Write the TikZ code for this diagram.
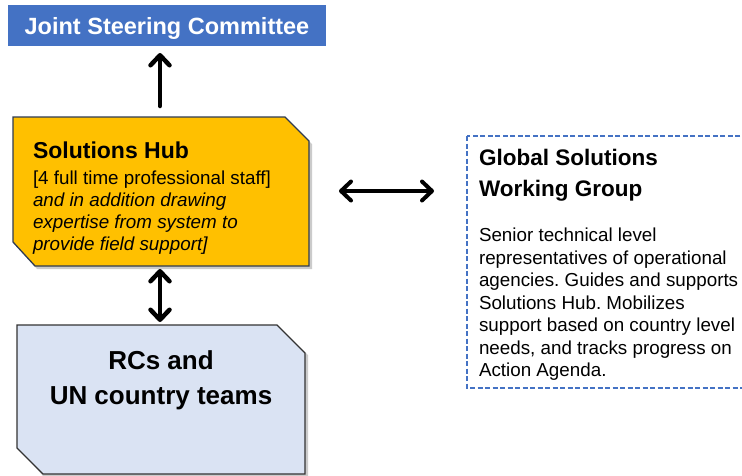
\documentclass[tikz,border=0pt]{standalone}
\usepackage{fontspec}
\setmainfont{Liberation Sans}
\usetikzlibrary{arrows.meta,calc}
\frenchspacing
\definecolor{jscblue}{HTML}{4472C4}
\definecolor{hubfill}{HTML}{FFC000}
\definecolor{hubedge}{HTML}{2F3B52}
\definecolor{rcfill}{HTML}{DAE3F3}
\definecolor{rcedge}{HTML}{333333}
\tikzset{
  frame/.style={inner sep=0pt, outer sep=0pt},
  txt/.style={inner sep=0pt, outer sep=0pt, anchor=base west},
  bodyfont/.style={font=\fontsize{18.8}{22}\selectfont},
  bodyit/.style={font=\fontsize{18.8}{22}\selectfont\itshape},
  conn/.style={line width=4.5pt, line cap=round, line join=round, black},
  barb/.tip={Straight Barb[length=10pt,width=19pt,line cap=round,line join=round]},
  tip/.style={-barb},
  tips/.style={barb-barb},
}
\begin{document}
\begin{tikzpicture}[x=1pt,y=-1pt]
\useasboundingbox (0,0) rectangle (742,475);
\clip (0,0) rectangle (742,475);
\fill[white] (0,0) rectangle (742,475);

% frames (invisible, named)
\node[frame, minimum width=318pt, minimum height=41pt] (jsc) at (167,25.5) {};
\node[frame, minimum width=296pt, minimum height=149pt] (hub) at (161,191.5) {};
\node[frame, minimum width=288pt, minimum height=149pt] (rc) at (161,399.5) {};
\node[frame, minimum width=282pt, minimum height=252pt] (gswg) at (608,262) {};

% Joint Steering Committee
\fill[jscblue] (jsc.north west) rectangle (jsc.south east);
\node[txt, anchor=base, text=white, font=\fontsize{23.5}{28}\selectfont\bfseries] (jsct) at (167,34) {Joint Steering Committee};

% Solutions Hub shape with shadow
\fill[black!45, opacity=0.45] ($(hub.north west)+(3,3)$) -- ($(hub.north east)+(-24,3)$) -- ($(hub.north east)+(3,27)$) -- ($(hub.south east)+(3,3)$) -- ($(hub.south west)+(24,3)$) -- ($(hub.south west)+(3,-22)$) -- cycle;
\draw[fill=hubfill, draw=hubedge, line width=1.3pt] (hub.north west) -- ($(hub.north east)+(-24,0)$) -- ($(hub.north east)+(0,24)$) -- (hub.south east) -- ($(hub.south west)+(22,0)$) -- ($(hub.south west)+(0,-24)$) -- cycle;
\node[txt, font=\fontsize{23}{28}\selectfont\bfseries] (hubt) at (33,158) {Solutions Hub};
\node[txt, bodyfont] (hb1) at (33,184) {[4 full time professional staff]};
\node[txt, bodyit] (hb2) at (33,206) {and in addition drawing};
\node[txt, bodyit] (hb3) at (33,228) {expertise from system to};
\node[txt, bodyit] (hb4) at (33,250) {provide field support]};

% RCs box
\fill[black!45, opacity=0.45] ($(rc.north west)+(3,3)$) -- ($(rc.north east)+(-27,3)$) -- ($(rc.north east)+(3,30)$) -- ($(rc.south east)+(3,3)$) -- ($(rc.south west)+(27,3)$) -- ($(rc.south west)+(3,-24)$) -- cycle;
\draw[fill=rcfill, draw=rcedge, line width=1.3pt] (rc.north west) -- ($(rc.north east)+(-28,0)$) -- ($(rc.north east)+(0,28)$) -- (rc.south east) -- ($(rc.south west)+(26,0)$) -- ($(rc.south west)+(0,-26)$) -- cycle;
\node[txt, anchor=base, font=\fontsize{26}{30}\selectfont\bfseries] (rct1) at (161,369) {RCs and};
\node[txt, anchor=base, font=\fontsize{26}{30}\selectfont\bfseries] (rct2) at (161,404) {UN country teams};

% Global Solutions Working Group
\draw[jscblue, line width=1.5pt, dash pattern=on 5pt off 2.5pt] (gswg.north west) rectangle (gswg.south east);
\node[txt, font=\fontsize{22.5}{26}\selectfont\bfseries] (gt1) at (479,165) {Global Solutions};
\node[txt, font=\fontsize{22.5}{26}\selectfont\bfseries] (gt2) at (479,196) {Working Group};
\node[txt, bodyfont] (gb1) at (479,241.5) {Senior technical level};
\node[txt, bodyfont] (gb2) at (479,264) {representatives of operational};
\node[txt, bodyfont] (gb3) at (479,286.5) {agencies. Guides and supports};
\node[txt, bodyfont] (gb4) at (479,309) {Solutions Hub. Mobilizes};
\node[txt, bodyfont] (gb5) at (479,331.5) {support based on country level};
\node[txt, bodyfont] (gb6) at (479,354) {needs, and tracks progress on};
\node[txt, bodyfont] (gb7) at (479,376.5) {Action Agenda.};

% connectors
\draw[conn, tip, shorten <=11pt, shorten >=7pt] ($(hub.north)+(-1,0)$) -- ($(jsc.south)+(-7,0)$);
\draw[conn, tips, shorten <=3pt, shorten >=3pt] ($(hub.south)+(-1,0)$) -- ($(rc.north)+(-1,0)$);
\draw[conn, line width=4pt, tips, shorten <=30pt, shorten >=33pt] (hub.east |- 0,191) -- (gswg.west |- 0,191);
\end{tikzpicture}
\end{document}
